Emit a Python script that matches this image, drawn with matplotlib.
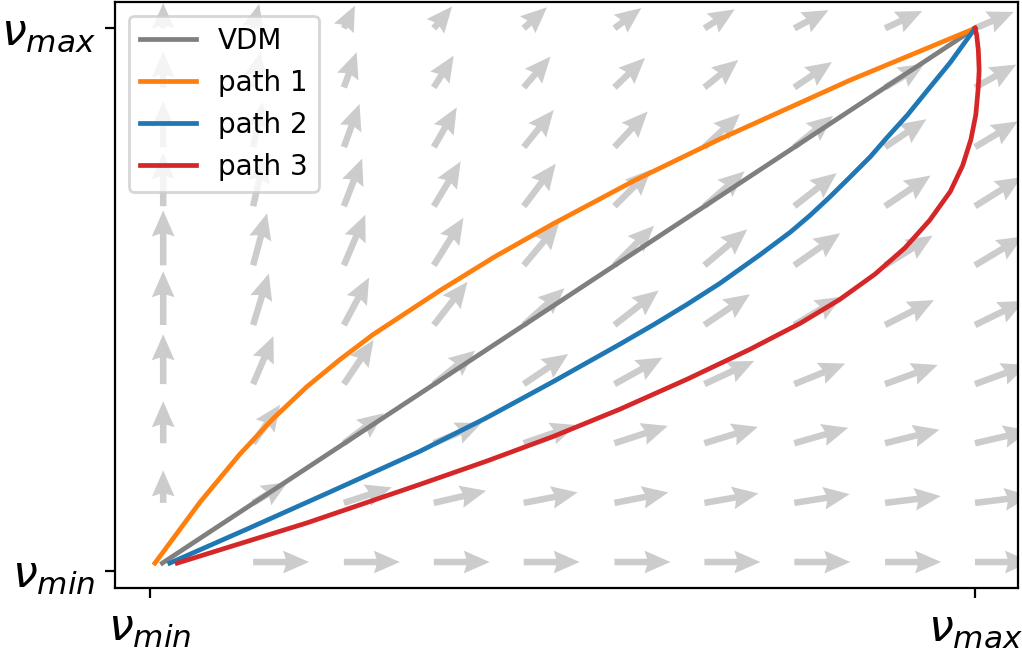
import numpy as np
from matplotlib import pyplot as plt

# grid of the direction field (same positions on both axes)
grid_pts = [0.016, 0.125, 0.235, 0.344, 0.453, 0.563, 0.672, 0.781, 0.891, 1.0]

# arrow angle (deg) per row (bottom -> top), per column (left -> right)
field_angle = [
    [90, 0, 0, 0, 0, 0, 0, 0, 0, 0],
    [90, 31, 18, 13, 11, 11, 10, 9, 7, 7],
    [90, 55, 37, 23, 19, 18, 17, 16, 14, 13],
    [90, 67, 56, 39, 34, 29, 25, 22, 20, 20],
    [90, 73, 62, 52, 42, 38, 34, 31, 27, 26],
    [90, 75, 67, 58, 50, 45, 40, 35, 32, 31],
    [90, 77, 69, 59, 53, 45, 41, 38, 34, 32],
    [90, 78, 70, 60, 51, 47, 43, 39, 34, 31],
    [90, 78, 70, 58, 49, 44, 39, 34, 31, 29],
    [90, 76, 64, 50, 42, 37, 32, 28, 25, 23],
]
# relative magnitude of each arrow
field_mag = [
    [0.00, 1.00, 1.00, 1.00, 1.00, 1.00, 1.00, 1.00, 1.00, 1.00],
    [0.58, 0.72, 0.90, 0.96, 0.98, 0.98, 0.98, 1.00, 1.00, 1.00],
    [0.75, 0.84, 0.89, 0.93, 1.00, 1.00, 1.00, 1.00, 1.00, 1.00],
    [0.89, 0.93, 0.95, 0.95, 0.96, 0.98, 0.98, 0.98, 1.00, 1.00],
    [0.96, 0.96, 0.96, 0.98, 0.98, 1.00, 0.98, 0.98, 0.98, 0.98],
    [0.98, 0.96, 0.98, 1.00, 0.98, 1.00, 1.00, 1.00, 1.00, 1.00],
    [0.95, 0.91, 0.91, 0.93, 0.95, 0.93, 0.95, 0.96, 0.98, 0.98],
    [0.82, 0.82, 0.82, 0.82, 0.85, 0.87, 0.87, 0.89, 0.89, 0.89],
    [0.64, 0.65, 0.67, 0.67, 0.73, 0.76, 0.78, 0.81, 0.82, 0.84],
    [0.45, 0.45, 0.45, 0.51, 0.56, 0.60, 0.64, 0.69, 0.73, 0.75],
]

vdm_x = [0.015, 1.0]
vdm_y = [0.014, 1.0]

path1_x = [0.006, 0.061, 0.109, 0.149, 0.190, 0.230, 0.270, 0.352, 0.418, 0.488, 0.588, 0.691, 0.848, 1.0]
path1_y = [0.014, 0.127, 0.215, 0.280, 0.339, 0.389, 0.435, 0.517, 0.579, 0.639, 0.720, 0.796, 0.904, 1.0]

path2_x = [0.024, 0.121, 0.218, 0.327, 0.408, 0.488, 0.570, 0.612, 0.651, 0.691, 0.739, 0.776, 0.800,
           0.824, 0.848, 0.873, 0.893, 0.918, 0.942, 0.970, 1.0]
path2_y = [0.014, 0.079, 0.145, 0.220, 0.282, 0.348, 0.418, 0.455, 0.491, 0.530, 0.582, 0.624, 0.655,
           0.689, 0.725, 0.763, 0.798, 0.840, 0.885, 0.937, 1.0]

path3_x = [0.033, 0.190, 0.327, 0.408, 0.488, 0.570, 0.651, 0.727, 0.788, 0.836, 0.879, 0.915,
           0.945, 0.970, 0.985, 0.995, 1.001, 1.004, 1.005, 1.004, 1.002, 1.0]
path3_y = [0.014, 0.088, 0.159, 0.202, 0.247, 0.298, 0.353, 0.408, 0.456, 0.500, 0.547, 0.595,
           0.646, 0.699, 0.747, 0.795, 0.841, 0.892, 0.923, 0.960, 0.988, 1.0]

tick_labels = [r'$\nu_{min}$', r'$\nu_{max}$']

fig = plt.figure(figsize=(5.11, 3.28), dpi=200)
ax = fig.add_axes([115 / 1022, 68 / 656, 903 / 1022, 586 / 656])

# direction field
X, Y, U, V = [], [], [], []
for i, gy in enumerate(grid_pts):
    for j, gx in enumerate(grid_pts):
        m = field_mag[i][j]
        if m == 0:
            continue
        a = np.deg2rad(field_angle[i][j])
        X.append(gx)
        Y.append(gy)
        U.append(m * np.cos(a))
        V.append(m * np.sin(a))
ax.quiver(X, Y, U, V, angles='uv', scale_units='dots', scale=1 / 56, units='dots',
          width=6.5, headwidth=3.5, headlength=4.0, headaxislength=3.6,
          color='#cccccc', zorder=1)

ax.plot(vdm_x, vdm_y, color='tab:gray', lw=1.7, label='VDM', zorder=3)
ax.plot(path1_x, path1_y, color='tab:orange', lw=1.7, label='path 1', zorder=3)
ax.plot(path2_x, path2_y, color='tab:blue', lw=1.7, label='path 2', zorder=3)
ax.plot(path3_x, path3_y, color='tab:red', lw=1.7, label='path 3', zorder=3)

ax.set_xlim(-0.0424, 1.0521)
ax.set_ylim(-0.0319, 1.0485)
ax.set_xticks([0, 1])
ax.set_yticks([0, 1])
ax.set_xticklabels(tick_labels, fontsize=16)
ax.set_yticklabels(tick_labels, fontsize=16)
ax.legend(loc='upper left')

fig.savefig('out.png', dpi=200)
